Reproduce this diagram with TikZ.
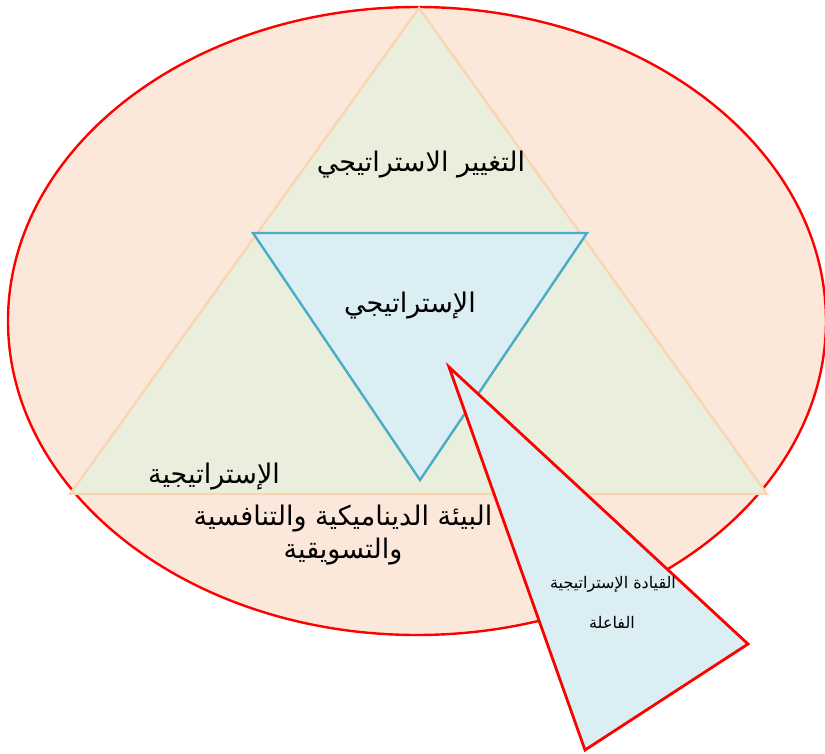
\documentclass[tikz,border=0pt]{standalone}
\usepackage{fontspec}
\newfontfamily\arabicfont[Script=Arabic]{DejaVu Sans}
\TeXXeTstate=1
\definecolor{ringfill}{HTML}{FCE8DA}
\definecolor{ringline}{HTML}{FF0000}
\definecolor{trifill}{HTML}{E9EFDC}
\definecolor{triline}{HTML}{FBD4B4}
\definecolor{innerfill}{HTML}{DBEEF3}
\definecolor{innerline}{HTML}{4BACC6}
\tikzset{
  ring/.style={fill=ringfill, draw=ringline, line width=2.4pt},
  outertri/.style={fill=trifill, draw=triline, line width=2.4pt, line join=miter},
  innertri/.style={fill=innerfill, draw=innerline, line width=2.4pt},
  pointer/.style={fill=innerfill, draw=ringline, line width=2.8pt},
  lbl/.style={font=\arabicfont\fontsize{27}{34}\selectfont, inner sep=0pt, align=center},
  smalllbl/.style={font=\arabicfont\fontsize{16}{22}\selectfont, inner sep=0pt, align=center}
}
\begin{document}
\begin{tikzpicture}[x=1pt, y=-1pt]
  \useasboundingbox (0,0) rectangle (825,754);
  % outer ellipse
  \coordinate (c) at (417,321);
  \draw[ring] (c) ellipse [x radius=409, y radius=314];
  % large upright triangle
  \coordinate (apex) at (419,8);
  \coordinate (bl) at (70,494);
  \coordinate (br) at (767,494);
  \draw[outertri] (apex) -- (bl) -- (br) -- cycle;
  % inverted inner triangle
  \coordinate (itl) at (253,233);
  \coordinate (itr) at (587,233);
  \coordinate (ib) at (420,480);
  \draw[innertri] (itl) -- (itr) -- (ib) -- cycle;
  % callout wedge
  \coordinate (tip) at (449,367);
  \coordinate (cb) at (585,750);
  \coordinate (cr) at (748,644);
  \draw[pointer] (tip) -- (cb) -- (cr) -- cycle;
  % labels
  \node[lbl] (change) at (421,165) {\beginR التغيير الاستراتيجي\endR};
  \node[lbl] (strat) at (410,306) {\beginR الإستراتيجي\endR};
  \node[lbl] (stratf) at (214,477) {\beginR الإستراتيجية\endR};
  \node[lbl] (env1) at (343,519) {\beginR البيئة الديناميكية والتنافسية\endR};
  \node[lbl] (env2) at (343,552) {\beginR والتسويقية\endR};
  \node[smalllbl] (lead1) at (613,584) {\beginR القيادة الإستراتيجية\endR};
  \node[smalllbl] (lead2) at (612,622) {\beginR الفاعلة\endR};
\end{tikzpicture}
\end{document}
